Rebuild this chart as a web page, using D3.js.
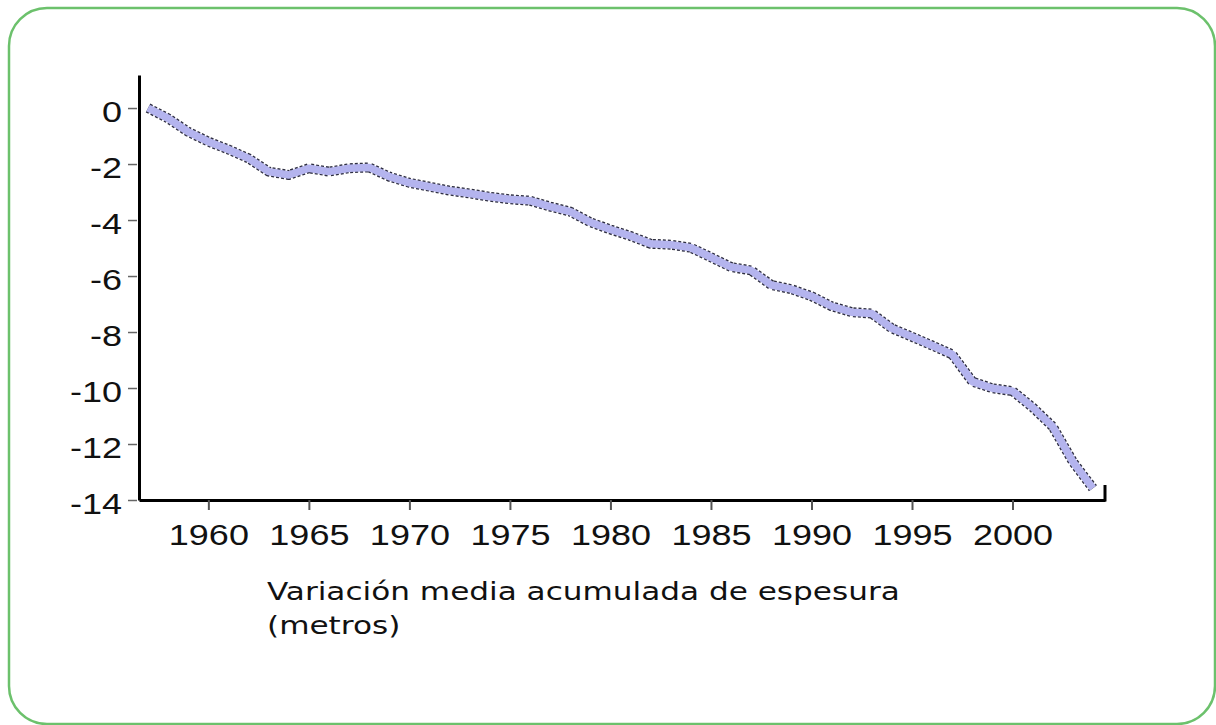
<html>
<head>
<meta charset="utf-8">
<script src="https://d3js.org/d3.v7.min.js"></script>
<style>
  body { margin: 0; background: #fff; }
  .caption { font-family: "DejaVu Sans", Verdana, sans-serif; font-size: 24.5px; fill: #111; }
</style>
</head>
<body>
<svg width="1216" height="725"></svg>
<script>
// años y variación media acumulada de espesura (m)
const years = [1957, 1958, 1959, 1960, 1961, 1962, 1963, 1964, 1965, 1966,
               1967, 1968, 1969, 1970, 1971, 1972, 1973, 1974, 1975, 1976,
               1977, 1978, 1979, 1980, 1981, 1982, 1983, 1984, 1985, 1986,
               1987, 1988, 1989, 1990, 1991, 1992, 1993, 1994, 1995, 1996,
               1997, 1998, 1999, 2000, 2001, 2002, 2003, 2004];
const thickness = [0, -0.37, -0.85, -1.2, -1.48, -1.8, -2.27, -2.39, -2.15, -2.27,
                   -2.15, -2.12, -2.45, -2.67, -2.81, -2.95, -3.05, -3.17, -3.26, -3.31,
                   -3.52, -3.7, -4.08, -4.34, -4.57, -4.85, -4.88, -4.99, -5.33, -5.68,
                   -5.8, -6.32, -6.47, -6.72, -7.08, -7.29, -7.34, -7.87, -8.17, -8.48,
                   -8.8, -9.77, -10.01, -10.11, -10.69, -11.38, -12.63, -13.58];
const xTicks = [1960, 1965, 1970, 1975, 1980, 1985, 1990, 1995, 2000];
const yTicks = [0, -2, -4, -6, -8, -10, -12, -14];
const captionLines = ["Variación media acumulada de espesura", "(metros)"];

const svg = d3.select("svg");
const mLeft = 139, mRight = 1105, mTop = 75, mBottom = 500;
const stretch = "scale(1.2,1)";

// marco verde
svg.append("rect")
  .attr("x", 9).attr("y", 8).attr("width", 1206).attr("height", 716)
  .attr("rx", 38).attr("ry", 38)
  .attr("fill", "none").attr("stroke", "#6cc16c").attr("stroke-width", 2.5);

const x = d3.scaleLinear().domain([1956.55, 2004.6]).range([mLeft, mRight]);
const y = d3.scaleLinear().domain([-14, 1.18]).range([mBottom, mTop]);

// eje y
const gy = svg.append("g").attr("transform", "translate(" + mLeft + ",0)")
  .call(d3.axisLeft(y).tickValues(yTicks).tickSize(11).tickSizeOuter(0).tickFormat(d3.format("d")));
gy.attr("font-family", "'Liberation Sans', Arial, sans-serif").attr("font-size", 30);
gy.select(".domain").attr("stroke", "#000").attr("stroke-width", 3);
gy.selectAll(".tick line").attr("stroke", "#666").attr("stroke-width", 1.5).attr("x1", -2);
gy.selectAll(".tick text")
  .attr("x", null).attr("dy", "0.38em").attr("fill", "#111")
  .attr("transform", "translate(-17,2) " + stretch)
  .text(d => String(d).replace("−", "-"));

// eje x
const gx = svg.append("g").attr("transform", "translate(0," + mBottom + ")")
  .call(d3.axisBottom(x).tickValues(xTicks).tickSize(10).tickSizeOuter(0).tickFormat(d3.format("d")));
gx.attr("font-family", "'Liberation Sans', Arial, sans-serif").attr("font-size", 30);
gx.select(".domain").attr("stroke", "#000").attr("stroke-width", 3);
gx.selectAll(".tick line").attr("stroke", "#555").attr("stroke-width", 2);
gx.selectAll(".tick text")
  .attr("y", 45).attr("dy", null).attr("fill", "#111")
  .attr("transform", stretch);
// marca final hacia arriba
gx.append("line")
  .attr("x1", x.range()[1]).attr("x2", x.range()[1])
  .attr("y1", 1.5).attr("y2", -15)
  .attr("stroke", "#000").attr("stroke-width", 3);

// serie
const pts = years.map((yr, i) => [yr, thickness[i]]);
const line = d3.line().x(d => x(d[0])).y(d => y(d[1]));
svg.append("path").datum(pts)
  .attr("d", line).attr("fill", "none")
  .attr("stroke", "#2e2e40").attr("stroke-width", 10)
  .attr("stroke-dasharray", "3,2")
  .attr("stroke-linejoin", "round").attr("stroke-linecap", "butt");
svg.append("path").datum(pts)
  .attr("d", line).attr("fill", "none")
  .attr("stroke", "#b4b4ee").attr("stroke-width", 7.5)
  .attr("stroke-linejoin", "round").attr("stroke-linecap", "butt");

// leyenda del eje
svg.append("g").attr("transform", "translate(267,0) scale(1.27,1)")
  .selectAll("text").data(captionLines).enter().append("text")
  .attr("class", "caption")
  .attr("x", 0)
  .attr("y", (d, i) => 600 + i * 34)
  .text(d => d);
</script>
</body>
</html>
